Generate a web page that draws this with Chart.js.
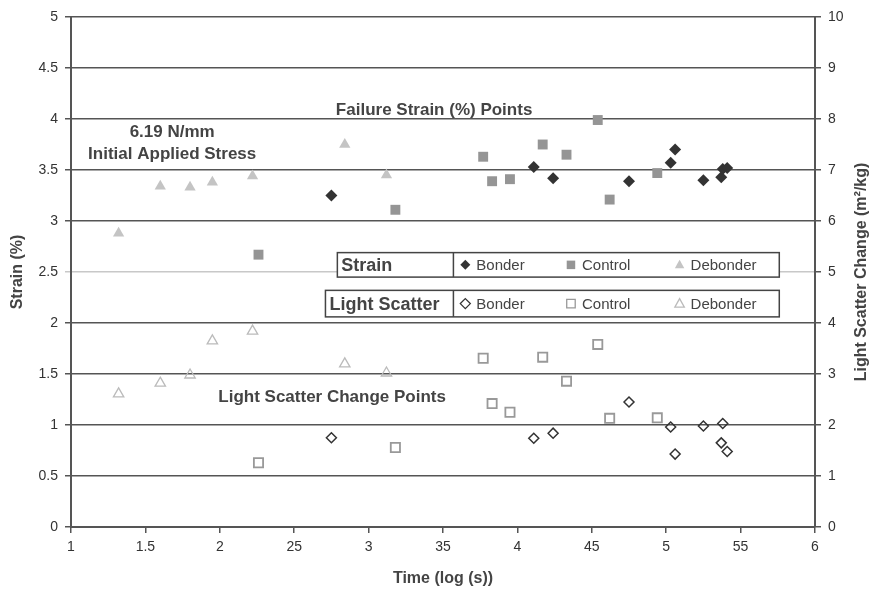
<!DOCTYPE html>
<html lang="en">
<head>
    <meta charset="UTF-8">
    <title>Strain and Light Scatter vs Time</title>
    <script src="https://cdn.jsdelivr.net/npm/chart.js"></script>
    <style>
        body {
            margin: 0;
            padding: 0;
            background: #fff;
        }
        .container {
            width: 878px;
            height: 591px;
        }
    </style>
</head>
<body>
    <div class="container">
        <canvas id="strainChart" width="878" height="591"></canvas>
    </div>
    <script>
        // x axis tick values and the labels as printed on the original
        const timeTicks = [1, 1.5, 2, 2.5, 3, 3.5, 4, 4.5, 5, 5.5, 6];
        const timeTickLabels = ['1', '1.5', '2', '25', '3', '35', '4', '45', '5', '55', '6'];

        // Bonder specimens
        const timeBonder = [2.75, 4.11, 4.24, 4.75, 5.03, 5.06, 5.25, 5.37, 5.38, 5.41];
        const strainBonder = [3.25, 3.53, 3.42, 3.39, 3.57, 3.70, 3.40, 3.43, 3.51, 3.52];
        const scatterBonder = [1.75, 1.74, 1.84, 2.45, 1.96, 1.43, 1.98, 1.65, 2.03, 1.48];

        // Control specimens
        const timeControl = [2.26, 3.18, 3.77, 3.83, 3.95, 4.17, 4.33, 4.54, 4.62, 4.94];
        const strainControl = [2.67, 3.11, 3.63, 3.39, 3.41, 3.75, 3.65, 3.99, 3.21, 3.47];
        const scatterControl = [1.26, 1.56, 3.31, 2.42, 2.25, 3.33, 2.86, 3.58, 2.13, 2.14];

        // Debonder specimens
        const timeDebonder = [1.32, 1.60, 1.80, 1.95, 2.22, 2.84, 3.12];
        const strainDebonder = [2.88, 3.34, 3.33, 3.38, 3.44, 3.75, 3.45];
        const scatterDebonder = [2.61, 2.82, 2.98, 3.65, 3.84, 3.20, 3.02];

        const pts = (xs, ys) => xs.map((x, i) => ({ x: x, y: ys[i] }));

        const FONT = "'Liberation Sans', Arial, sans-serif";
        const TXT = '#444';

        function marker(ctx, shape, x, y, r, filled, color) {
            ctx.beginPath();
            if (shape === 'diamond') {
                ctx.moveTo(x, y - r); ctx.lineTo(x + r, y); ctx.lineTo(x, y + r); ctx.lineTo(x - r, y);
            } else if (shape === 'square') {
                ctx.rect(x - r * 0.85, y - r * 0.85, r * 1.7, r * 1.7);
            } else {
                ctx.moveTo(x, y - r); ctx.lineTo(x + r * 0.95, y + r * 0.7); ctx.lineTo(x - r * 0.95, y + r * 0.7);
            }
            ctx.closePath();
            if (filled) {
                ctx.fillStyle = color; ctx.fill();
            } else {
                ctx.strokeStyle = color; ctx.lineWidth = 1.3; ctx.stroke();
            }
        }

        function legendBox(ctx, px, py, x1, y1, y2, title, filled) {
            const left = px(x1), right = px(5.76), top = py(y1), bottom = py(y2);
            const div = px(3.57);
            ctx.fillStyle = '#fff';
            ctx.fillRect(left, top, right - left, bottom - top);
            ctx.strokeStyle = '#444';
            ctx.lineWidth = 1.5;
            ctx.strokeRect(left, top, right - left, bottom - top);
            ctx.beginPath();
            ctx.moveTo(div, top); ctx.lineTo(div, bottom); ctx.stroke();
            const cy = (top + bottom) / 2 + 1;
            ctx.textBaseline = 'middle';
            ctx.textAlign = 'left';
            ctx.fillStyle = TXT;
            ctx.font = 'bold 18px ' + FONT;
            ctx.fillText(title, left + 4, cy);
            ctx.font = '15px ' + FONT;
            const items = [
                ['diamond', 3.65, 'Bonder', '#333'],
                ['square', 4.36, 'Control', filled ? '#959595' : '#999'],
                ['triangle', 5.09, 'Debonder', filled ? '#c4c4c4' : '#bbb']
            ];
            items.forEach(it => {
                const mx = px(it[1]);
                marker(ctx, it[0], mx, cy - 1, 5, filled, it[3]);
                ctx.fillStyle = TXT;
                ctx.fillText(it[2], mx + 11, cy);
            });
        }

        const overlayPlugin = {
            id: 'overlay',
            afterDatasetsDraw(chart) {
                const ctx = chart.ctx;
                const xs = chart.scales.x, ys = chart.scales.y;
                const px = v => xs.getPixelForValue(v);
                const py = v => ys.getPixelForValue(v);
                ctx.save();
                ctx.fillStyle = TXT;
                ctx.font = 'bold 17px ' + FONT;
                ctx.textBaseline = 'middle';
                ctx.textAlign = 'center';
                ctx.fillText('6.19 N/mm', px(1.68), py(3.87));
                ctx.fillText('Initial Applied Stress', px(1.68), py(3.65));
                ctx.textAlign = 'left';
                ctx.fillText('Failure Strain (%) Points', px(2.78), py(4.09));
                ctx.fillText('Light Scatter Change Points', px(1.99), py(1.27));

                legendBox(ctx, px, py, 2.79, 2.69, 2.45, 'Strain', true);
                legendBox(ctx, px, py, 2.71, 2.32, 2.06, 'Light Scatter', false);

                // right axis title reads bottom to top in the original
                ctx.translate(chart.width - 16, (chart.chartArea.top + chart.chartArea.bottom) / 2);
                ctx.rotate(-Math.PI / 2);
                ctx.textAlign = 'center';
                ctx.font = 'bold 16px ' + FONT;
                ctx.fillText('Light Scatter Change (m²/kg)', 0, 0);
                ctx.restore();
            }
        };

        const ctx1 = document.getElementById('strainChart').getContext('2d');
        new Chart(ctx1, {
            type: 'scatter',
            data: {
                datasets: [
                    {
                        label: 'Strain Bonder',
                        data: pts(timeBonder, strainBonder),
                        yAxisID: 'y',
                        pointStyle: 'rectRot',
                        pointRadius: 6,
                        backgroundColor: '#333',
                        borderColor: '#333',
                        borderWidth: 0
                    },
                    {
                        label: 'Strain Control',
                        data: pts(timeControl, strainControl),
                        yAxisID: 'y',
                        pointStyle: 'rect',
                        pointRadius: 7,
                        backgroundColor: '#959595',
                        borderColor: '#959595',
                        borderWidth: 0
                    },
                    {
                        label: 'Strain Debonder',
                        data: pts(timeDebonder, strainDebonder),
                        yAxisID: 'y',
                        pointStyle: 'triangle',
                        pointRadius: 6.5,
                        backgroundColor: '#c4c4c4',
                        borderColor: '#c4c4c4',
                        borderWidth: 0
                    },
                    {
                        label: 'Light Scatter Bonder',
                        data: pts(timeBonder, scatterBonder),
                        yAxisID: 'y2',
                        pointStyle: 'rectRot',
                        pointRadius: 5,
                        backgroundColor: 'rgba(255,255,255,0)',
                        borderColor: '#333',
                        borderWidth: 1.5
                    },
                    {
                        label: 'Light Scatter Control',
                        data: pts(timeControl, scatterControl),
                        yAxisID: 'y2',
                        pointStyle: 'rect',
                        pointRadius: 6.5,
                        backgroundColor: 'rgba(255,255,255,0)',
                        borderColor: '#999',
                        borderWidth: 1.8
                    },
                    {
                        label: 'Light Scatter Debonder',
                        data: pts(timeDebonder, scatterDebonder),
                        yAxisID: 'y2',
                        pointStyle: 'triangle',
                        pointRadius: 6,
                        backgroundColor: 'rgba(255,255,255,0)',
                        borderColor: '#bbb',
                        borderWidth: 1.3
                    }
                ]
            },
            options: {
                responsive: false,
                animation: false,
                layout: { padding: { top: 17, left: 0, right: 0, bottom: 0 } },
                plugins: {
                    legend: { display: false },
                    tooltip: { enabled: false }
                },
                scales: {
                    x: {
                        type: 'linear',
                        min: 1,
                        max: 6,
                        afterBuildTicks: s => { s.ticks = timeTicks.map(v => ({ value: v })); },
                        afterFit: s => { s.height = 64; },
                        ticks: {
                            color: '#333',
                            font: { family: FONT, size: 14 },
                            padding: 6,
                            maxRotation: 0,
                            callback: (v) => timeTickLabels[timeTicks.indexOf(v)]
                        },
                        grid: { drawOnChartArea: false, drawTicks: true, tickLength: 6, color: '#555', lineWidth: 1.5 },
                        border: { color: '#555', width: 2 },
                        title: {
                            display: true,
                            text: 'Time (log (s))',
                            color: TXT,
                            font: { family: FONT, size: 16, weight: 'bold' },
                            padding: { top: 0, bottom: 3 }
                        }
                    },
                    y: {
                        position: 'left',
                        min: 0,
                        max: 5,
                        afterFit: s => { s.width = 71; },
                        ticks: {
                            stepSize: 0.5,
                            color: '#333',
                            font: { family: FONT, size: 14 },
                            padding: 7,
                            callback: v => String(v)
                        },
                        grid: {
                            color: c => (c.tick && c.tick.value === 2.5) ? '#c8c8c8' : '#555',
                            lineWidth: 1.5,
                            tickLength: 6
                        },
                        border: { color: '#555', width: 2 },
                        title: {
                            display: true,
                            text: 'Strain (%)',
                            color: TXT,
                            font: { family: FONT, size: 16, weight: 'bold' },
                            padding: { top: 8, bottom: 0 }
                        }
                    },
                    y2: {
                        position: 'right',
                        min: 0,
                        max: 10,
                        afterFit: s => { s.width = 63; },
                        ticks: {
                            stepSize: 1,
                            color: '#333',
                            font: { family: FONT, size: 14 },
                            padding: 7,
                            callback: v => String(v)
                        },
                        grid: { drawOnChartArea: false, tickLength: 6, color: '#555', lineWidth: 1.5 },
                        border: { color: '#555', width: 2 },
                        title: { display: false }
                    }
                }
            },
            plugins: [overlayPlugin]
        });
    </script>
</body>
</html>
